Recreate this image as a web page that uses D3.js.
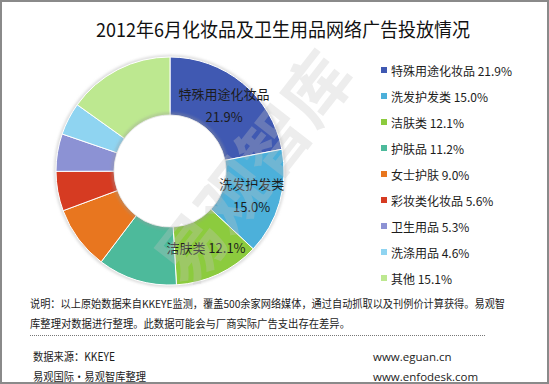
<!DOCTYPE html>
<html>
<head>
<meta charset="utf-8">
<script src="https://cdnjs.cloudflare.com/ajax/libs/d3/7.8.5/d3.min.js"></script>
<style>
  body { margin: 0; background: #fff; }
  svg text { font-family: "Noto Sans CJK SC", "Noto Sans", sans-serif; }
</style>
</head>
<body>
<div id="chart"></div>
<script>
var categories = ['特殊用途化妆品', '洗发护发类', '洁肤类', '护肤品', '女士护肤', '彩妆类化妆品', '卫生用品', '洗涤用品', '其他'];
var shares = [21.9, 15.0, 12.1, 11.2, 9.0, 5.6, 5.3, 4.6, 15.1];
var colors = ['#4059b2', '#4cb0da', '#8ccb3e', '#4dba9b', '#e8761f', '#d63b22', '#8c92d4', '#8fd4f1', '#bde890'];
// slices that carry a label on the ring
var ring_labels = [
  ['特殊用途化妆品', '21.9%'],
  ['洗发护发类', '15.0%'],
  ['洁肤类 12.1%']
];
var title = '2012年6月化妆品及卫生用品网络广告投放情况';
var note_lines = [
  '说明：以上原始数据来自KKEYE监测，覆盖500余家网络媒体，通过自动抓取以及刊例价计算获得。易观智',
  '库整理对数据进行整理。此数据可能会与厂商实际广告支出存在差异。'
];

var width = 549, height = 384;
var cx = 170, cy = 171, r_out = 114, r_in = 56;

var svg = d3.select('#chart')
  .append('svg')
  .attr('width', width)
  .attr('height', height);

var defs = svg.append('defs');
var blur = defs.append('filter').attr('id', 'soft')
  .attr('x', '-20%').attr('y', '-20%').attr('width', '140%').attr('height', '140%');
blur.append('feGaussianBlur').attr('stdDeviation', 1.5);

// frame
svg.append('rect')
  .attr('x', 1).attr('y', 1)
  .attr('width', width - 2).attr('height', height - 2)
  .attr('fill', '#fff')
  .attr('stroke', '#8a8a8a')
  .attr('stroke-width', 2);

// title
svg.append('text')
  .attr('x', 96).attr('y', 37)
  .attr('textLength', 374)
  .attr('lengthAdjust', 'spacingAndGlyphs')
  .style('font-size', '19px')
  .attr('fill', '#111')
  .text(title);

var pie = d3.pie().sort(null).value(function(d) { return d; });
var arc = d3.arc().innerRadius(r_in).outerRadius(r_out);
var arcs = pie(shares);

var ring = svg.append('g')
  .attr('class', 'ring')
  .attr('transform', 'translate(' + cx + ',' + cy + ')');

// faint shadow around the ring
ring.append('circle')
  .attr('r', r_out + 0.5)
  .attr('fill', 'none')
  .attr('stroke', '#c8c8c8')
  .attr('stroke-width', 2)
  .attr('filter', 'url(#soft)');

ring.selectAll('path.slice')
  .data(arcs)
  .enter()
  .append('path')
  .attr('class', 'slice')
  .attr('d', arc)
  .attr('fill', function(d, i) { return colors[i]; })
  .attr('stroke', '#fff')
  .attr('stroke-width', 1);

// inner shadow
ring.append('circle')
  .attr('r', r_in + 1)
  .attr('fill', 'none')
  .attr('stroke', '#9a9a9a')
  .attr('stroke-width', 2)
  .attr('opacity', 0.6)
  .attr('filter', 'url(#soft)');
ring.append('circle')
  .attr('r', r_in - 0.5)
  .attr('fill', '#fff');

// watermark
svg.append('text')
  .attr('transform', 'translate(250,166) rotate(-52)')
  .attr('text-anchor', 'middle')
  .attr('dominant-baseline', 'central')
  .style('font-size', '68px')
  .style('font-weight', 'bold')
  .attr('fill', '#c4c4c4')
  .attr('opacity', 0.3)
  .text('易观智库');

// ring labels at slice centroids
var label_arc = d3.arc().innerRadius(r_in).outerRadius(r_out);
ring_labels.forEach(function(lines, i) {
  var c = label_arc.centroid(arcs[i]);
  var g = ring.append('g').attr('transform', 'translate(' + c[0] + ',' + c[1] + ')');
  lines.forEach(function(line, j) {
    g.append('text')
      .attr('x', 0)
      .attr('y', (j - (lines.length - 1) / 2) * 23)
      .attr('text-anchor', 'middle')
      .attr('dominant-baseline', 'central')
      .style('font-size', '13px')
      .attr('fill', '#1c1c1c')
      .text(line);
  });
});

// legend
var legend_y = d3.scalePoint()
  .domain(categories)
  .range([70, 278]);

var legend = svg.append('g').attr('class', 'legend');
var items = legend.selectAll('g')
  .data(categories)
  .enter()
  .append('g')
  .attr('transform', function(d) { return 'translate(381,' + legend_y(d) + ')'; });

items.append('rect')
  .attr('x', 0).attr('y', -3)
  .attr('width', 6).attr('height', 6)
  .attr('fill', function(d, i) { return colors[i]; });

items.append('text')
  .attr('x', 10).attr('y', 0)
  .attr('dominant-baseline', 'central')
  .style('font-size', '12px')
  .attr('fill', '#1c1c1c')
  .text(function(d, i) { return d + ' ' + shares[i].toFixed(1) + '%'; });

// footnote
var foot = svg.append('g').attr('class', 'footnote');
foot.append('text')
  .attr('x', 30).attr('y', 303)
  .attr('dominant-baseline', 'central')
  .attr('textLength', 475)
  .attr('lengthAdjust', 'spacingAndGlyphs')
  .style('font-size', '11px')
  .attr('fill', '#1c1c1c')
  .text(note_lines[0]);
foot.append('text')
  .attr('x', 30).attr('y', 323)
  .attr('dominant-baseline', 'central')
  .attr('textLength', 320)
  .attr('lengthAdjust', 'spacingAndGlyphs')
  .style('font-size', '11px')
  .attr('fill', '#1c1c1c')
  .text(note_lines[1]);

foot.append('line')
  .attr('x1', 30).attr('x2', 485)
  .attr('y1', 335.5).attr('y2', 335.5)
  .attr('stroke', '#777')
  .attr('stroke-width', 1)
  .attr('stroke-dasharray', '1,1');

var foot_rows = [
  ['数据来源：KKEYE', 'www.eguan.cn', 356, 82],
  ['易观国际·易观智库整理', 'www.enfodesk.com', 376, 113]
];
foot_rows.forEach(function(row) {
  foot.append('text')
    .attr('x', 33).attr('y', row[2])
    .attr('dominant-baseline', 'central')
    .attr('textLength', row[3])
    .attr('lengthAdjust', 'spacingAndGlyphs')
    .style('font-size', '11.5px')
    .attr('fill', '#1c1c1c')
    .text(row[0]);
  foot.append('text')
    .attr('x', 373).attr('y', row[2])
    .attr('dominant-baseline', 'central')
    .style('font-size', '11.5px')
    .style('font-family', '"Open Sans", "Noto Sans", sans-serif')
    .attr('fill', '#1c1c1c')
    .text(row[1]);
});
</script>
</body>
</html>
